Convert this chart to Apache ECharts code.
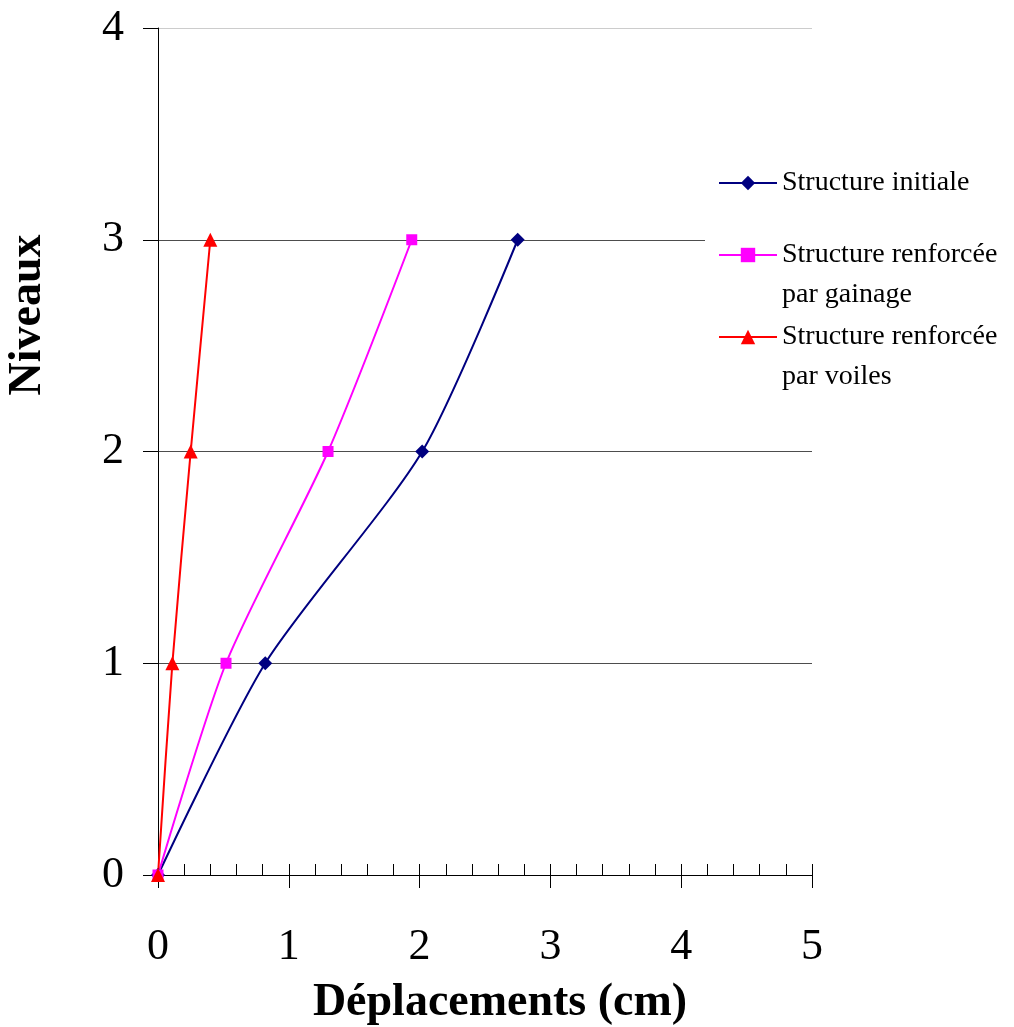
<!DOCTYPE html>
<html>
<head>
<meta charset="utf-8">
<script src="https://cdn.jsdelivr.net/npm/echarts@6/dist/echarts.min.js"></script>
<style>
  html, body { margin: 0; padding: 0; background: #fff; }
  #chart { width: 1014px; height: 1027px; }
</style>
</head>
<body>
<div id="chart"></div>
<script>
// Storey displacement profiles (cm) for levels 0..3
const levels = [0, 1, 2, 3];
const seriesNames = [
  'Structure initiale',
  'Structure renforcée par gainage',
  'Structure renforcée par voiles'
];
const dispInitiale = [0, 0.82, 2.02, 2.75];
const dispGainage  = [0, 0.52, 1.30, 1.94];
const dispVoiles   = [0, 0.11, 0.25, 0.40];
const xTicks = [0, 1, 2, 3, 4, 5];
const yTicks = [0, 1, 2, 3, 4];

const FONT = "'Liberation Serif', 'Times New Roman', serif";

function pairs(disp) {
  return disp.map((d, i) => [d, levels[i]]);
}

const chart = echarts.init(document.getElementById('chart'), null, { renderer: 'canvas' });

const legendText = { fontFamily: FONT, fontSize: 28, color: '#000', lineHeight: 40 };
// two-line legend entries: an empty leading line keeps the icon level with the first line
const wrapName = name => '\n' + name.replace(' par ', '\npar ');

const option = {
  backgroundColor: '#fff',
  animation: false,
  grid: { left: 158, right: 202, top: 28, bottom: 152, containLabel: false },
  xAxis: [
    {
      type: 'value',
      min: xTicks[0], max: xTicks[xTicks.length - 1], interval: 1,
      axisLine: { show: true, onZero: false, lineStyle: { color: '#000', width: 1 } },
      axisTick: { show: true, length: 13, lineStyle: { color: '#000' } },
      axisLabel: { fontFamily: FONT, fontSize: 44, color: '#000', margin: 50 },
      splitLine: { show: false }
    },
    {
      // inner minor tick marks every 0.2 cm
      type: 'value',
      gridIndex: 0,
      position: 'bottom',
      min: 0, max: 5, interval: 0.2,
      axisLine: { show: false },
      axisTick: { show: true, inside: true, length: 11, lineStyle: { color: '#000' } },
      axisLabel: { show: false },
      splitLine: { show: false }
    }
  ],
  yAxis: {
    type: 'value',
    min: yTicks[0], max: yTicks[yTicks.length - 1], interval: 1,
    axisLine: { show: true, onZero: false, lineStyle: { color: '#000', width: 1 } },
    axisTick: { show: true, length: 15, lineStyle: { color: '#000' } },
    axisLabel: { fontFamily: FONT, fontSize: 44, color: '#000', margin: 34 },
    splitLine: {
      show: true,
      lineStyle: { color: ['#4d4d4d', '#4d4d4d', '#4d4d4d', '#4d4d4d', '#cccccc'], width: 1 }
    }
  },
  legend: [
    {
      data: [seriesNames[0]],
      orient: 'vertical', left: 705, top: 158,
      padding: [5, 20, 45, 13],
      backgroundColor: '#fff',
      itemWidth: 58, itemHeight: 18,
      textStyle: legendText
    },
    {
      data: [seriesNames[1]],
      orient: 'vertical', left: 705, top: 190,
      padding: [5, 20, 5, 13],
      backgroundColor: '#fff',
      itemWidth: 58, itemHeight: 18,
      formatter: wrapName,
      textStyle: legendText
    },
    {
      data: [seriesNames[2]],
      orient: 'vertical', left: 705, top: 272,
      padding: [5, 20, 5, 13],
      backgroundColor: '#fff',
      itemWidth: 58, itemHeight: 18,
      formatter: wrapName,
      textStyle: legendText
    }
  ],
  graphic: [
    {
      type: 'text', x: 500, y: 1003,
      style: { text: 'Déplacements (cm)', fontFamily: FONT, fontSize: 46, fontWeight: 'bold',
               fill: '#000', align: 'center', verticalAlign: 'middle' }
    },
    {
      type: 'text', x: 28, y: 315, rotation: Math.PI / 2,
      style: { text: 'Niveaux', fontFamily: FONT, fontSize: 46, fontWeight: 'bold',
               fill: '#000', align: 'center', verticalAlign: 'middle' }
    }
  ],
  series: [
    {
      name: seriesNames[0], type: 'line', xAxisIndex: 0,
      data: pairs(dispInitiale), smooth: 0.25,
      symbol: 'diamond', symbolSize: 14,
      lineStyle: { color: '#000080', width: 2 },
      itemStyle: { color: '#000080' }
    },
    {
      name: seriesNames[1], type: 'line', xAxisIndex: 0,
      data: pairs(dispGainage), smooth: 0.25,
      symbol: 'rect', symbolSize: 11,
      lineStyle: { color: '#ff00ff', width: 2 },
      itemStyle: { color: '#ff00ff' }
    },
    {
      name: seriesNames[2], type: 'line', xAxisIndex: 0,
      data: pairs(dispVoiles), smooth: 0.25,
      symbol: 'triangle', symbolSize: 14,
      lineStyle: { color: '#ff0000', width: 2 },
      itemStyle: { color: '#ff0000' }
    }
  ]
};

chart.setOption(option);
</script>
</body>
</html>
